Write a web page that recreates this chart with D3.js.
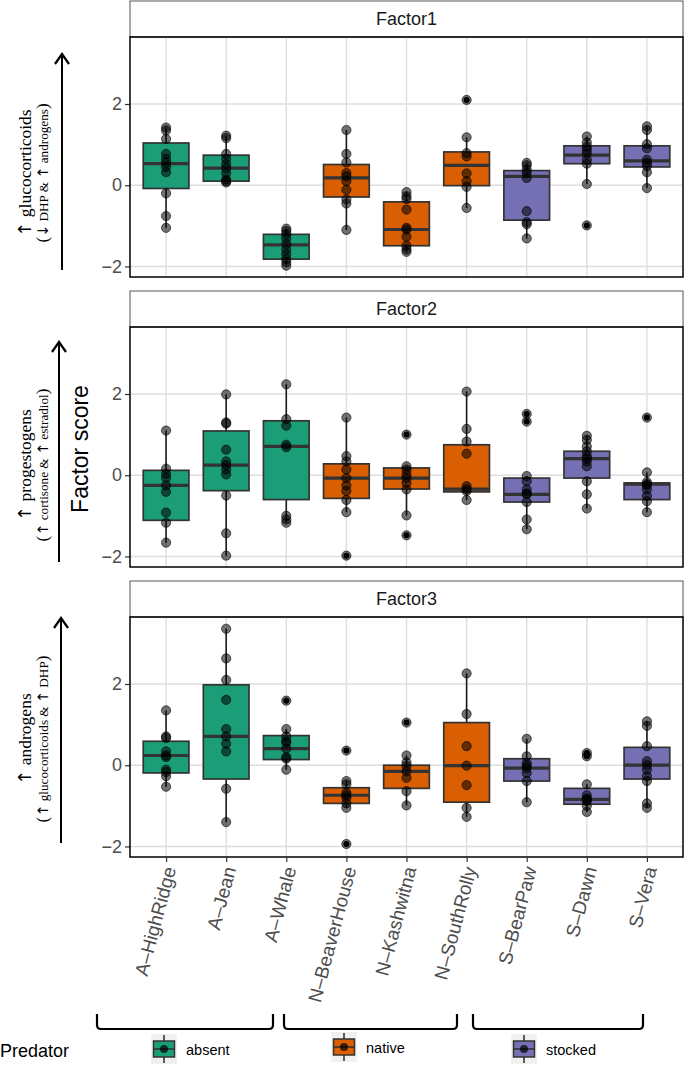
<!DOCTYPE html>
<html><head><meta charset="utf-8">
<script src="https://cdn.jsdelivr.net/npm/d3@7"></script>
<style>body{margin:0;background:#fff}svg{display:block}</style>
</head><body>
<svg id="c" width="685" height="1066"></svg>
<script>
const categories = ["A\u2013HighRidge","A\u2013Jean","A\u2013Whale","N\u2013BeaverHouse","N\u2013Kashwitna","N\u2013SouthRolly","S\u2013BearPaw","S\u2013Dawn","S\u2013Vera"];
const predatorOfCategory = ["absent","absent","absent","native","native","native","stocked","stocked","stocked"];
const predatorLevels = ["absent","native","stocked"];
const predatorColors = ["#1b9e77","#d95f02","#7570b3"];
const factorNames = ["Factor1","Factor2","Factor3"];
const yTicks = [-2, 0, 2];

// box stats per category: [lower whisker, q1, median, q3, upper whisker]
const factor1Box = [[-1.05,-0.08,0.53,1.04,1.42],[0.07,0.10,0.42,0.74,1.22],[-1.98,-1.82,-1.47,-1.21,-1.07],[-1.10,-0.29,0.18,0.51,1.36],[-1.64,-1.49,-1.09,-0.41,-0.17],[-0.56,-0.01,0.49,0.82,1.18],[-1.31,-0.86,0.22,0.36,0.55],[0.03,0.53,0.74,0.97,1.20],[-0.07,0.45,0.60,0.97,1.45]];
const factor2Box = [[-1.66,-1.11,-0.25,0.12,1.10],[-1.98,-0.38,0.25,1.09,1.99],[-1.17,-0.60,0.71,1.34,2.24],[-0.91,-0.57,-0.07,0.28,1.42],[-0.99,-0.34,-0.07,0.18,0.22],[-0.61,-0.41,-0.34,0.75,2.06],[-1.33,-0.66,-0.47,-0.07,-0.02],[-0.82,-0.07,0.41,0.59,0.97],[-0.91,-0.60,-0.22,-0.19,0.07]];
const factor3Box = [[-0.53,-0.19,0.24,0.59,1.35],[-1.40,-0.34,0.71,1.98,3.36],[-0.11,0.14,0.41,0.73,0.89],[-1.05,-0.94,-0.74,-0.555,-0.39],[-0.99,-0.57,-0.15,0.00,0.24],[-1.27,-0.91,-0.01,1.05,2.26],[-0.91,-0.39,-0.07,0.16,0.65],[-1.15,-0.96,-0.84,-0.57,-0.47],[-1.05,-0.34,0.00,0.44,1.08]];

// individual scores per category
const factor1Points = [[1.42,1.35,1.14,0.77,0.65,0.55,0.45,0.32,-0.20,-0.76,-1.05],[1.22,1.16,0.77,0.65,0.52,0.42,0.30,0.14,0.10,0.07],[-1.07,-1.13,-1.21,-1.31,-1.45,-1.58,-1.70,-1.82,-1.90,-1.98],[1.36,0.77,0.56,0.30,0.22,0.10,-0.11,-0.35,-0.45,-1.10],[-0.17,-0.27,-0.34,-0.60,-1.05,-1.09,-1.27,-1.49,-1.58,-1.64],[2.10,1.18,0.79,0.71,0.29,0.10,-0.04,-0.56],[0.55,0.49,0.38,0.30,0.18,-0.64,-0.91,-0.96,-1.31],[1.20,1.05,0.95,0.87,0.78,0.63,0.53,0.03,-0.99],[1.45,1.36,1.01,0.91,0.63,0.55,0.47,0.32,-0.07]];
const factor2Points = [[1.10,0.16,0.03,-0.07,-0.25,-0.41,-0.92,-1.17,-1.66],[1.99,1.30,1.27,0.63,0.34,0.25,0.14,0.02,-0.50,-1.43,-1.98],[2.24,1.38,1.22,0.75,0.69,-1.00,-1.09,-1.17],[1.42,0.47,0.34,0.14,-0.07,-0.25,-0.39,-0.61,-0.91,-1.98],[1.00,0.22,0.14,0.02,-0.07,-0.19,-0.35,-0.99,-1.48],[2.06,1.14,0.83,0.53,-0.27,-0.34,-0.39,-0.61],[1.51,1.32,-0.02,-0.15,-0.35,-0.45,-0.47,-0.66,-1.09,-1.33],[0.97,0.87,0.71,0.59,0.47,0.41,0.34,0.22,-0.15,-0.47,-0.82],[1.42,0.07,-0.17,-0.22,-0.25,-0.35,-0.51,-0.64,-0.91]];
const factor3Points = [[1.35,0.71,0.67,0.34,0.24,0.20,-0.11,-0.17,-0.27,-0.53],[3.36,2.63,2.10,1.61,0.89,0.71,0.53,0.34,-0.58,-1.40],[1.59,0.89,0.71,0.59,0.56,0.41,0.20,0.16,-0.11],[0.36,-0.39,-0.47,-0.68,-0.74,-0.80,-0.94,-1.05,-1.94],[1.05,0.24,0.07,-0.02,-0.15,-0.31,-0.64,-0.99],[2.26,1.26,0.47,-0.01,-0.49,-1.05,-1.27],[0.65,0.22,0.05,-0.01,-0.07,-0.19,-0.39,-0.91],[0.30,0.22,-0.47,-0.74,-0.82,-0.84,-0.88,-1.00,-1.15],[1.08,0.97,0.47,0.10,0.00,-0.11,-0.27,-0.39,-0.94,-1.05]];

const boxes = [factor1Box, factor2Box, factor3Box];
const points = [factor1Points, factor2Points, factor3Points];

const sideMain = ["\u2191 glucocorticoids","\u2191 progestogens","\u2191 androgens"];
const sideSub = ["\u2193 DHP & \u2191 androgens","\u2191 cortisone & \u2191 estradiol","\u2191 glucocorticoids & \u2191 DHP"];

// ---------- layout ----------
const svg = d3.select("#c");
const X0 = 130, X1 = 683;
const panelTops = [37, 327, 617];
const stripH = 36, plotH = 240;
const sideTextY = [173, 465, 739];
const arrowGeom = [[62, 270, 54],[59, 562, 342],[61, 843, 618]];

const step = (X1 - X0) / (categories.length - 1 + 1.2);
const x = d3.scalePoint().domain(categories).range([X0 + 0.6*step, X1 - 0.6*step]);
const boxW = 0.76 * step;
const color = d3.scaleOrdinal().domain(predatorLevels).range(predatorColors);
const sans = "'Liberation Sans', Arial, Helvetica, sans-serif";
const serif = "'Liberation Serif', 'Times New Roman', serif";
const arrowFont = "'DejaVu Sans', sans-serif";

// append text with arrow glyphs rendered larger
function richText(sel, str, size, arrowSize) {
  str.split(/([\u2191\u2193])/).filter(s => s.length).forEach(part => {
    const isArrow = /[\u2191\u2193]/.test(part);
    sel.append("tspan").attr("font-size", isArrow ? arrowSize : size)
      .attr("font-family", isArrow ? arrowFont : serif).text(part);
  });
}

factorNames.forEach((fname, fi) => {
  const top = panelTops[fi];
  const y = d3.scaleLinear().domain([-2.26, 3.65]).range([top + plotH, top]);
  const g = svg.append("g");

  // strip
  g.append("rect").attr("x", X0).attr("y", top - stripH).attr("width", X1 - X0).attr("height", stripH)
    .attr("fill", "#fff").attr("stroke", "#555").attr("stroke-width", 1);
  g.append("text").attr("x", (X0 + X1)/2).attr("y", top - stripH/2).attr("dy", "0.36em")
    .attr("text-anchor", "middle").attr("font-family", sans).attr("font-size", 18).attr("fill", "#1a1a1a").text(fname);

  // grid
  g.selectAll(".gy").data(yTicks).join("line")
    .attr("x1", X0).attr("x2", X1).attr("y1", d => y(d)).attr("y2", d => y(d))
    .attr("stroke", "#dedede").attr("stroke-width", 1.4);
  g.selectAll(".gx").data(categories).join("line")
    .attr("x1", d => x(d)).attr("x2", d => x(d)).attr("y1", top).attr("y2", top + plotH)
    .attr("stroke", "#dedede").attr("stroke-width", 1.4);

  // y axis
  const yAxis = d3.axisLeft(y).tickValues(yTicks).tickSize(5).tickPadding(3).tickFormat(d3.format("d"));
  const ya = g.append("g").attr("transform", `translate(${X0},0)`).call(yAxis);
  ya.select(".domain").remove();
  ya.selectAll("line").attr("stroke", "#333").attr("stroke-width", 1.2);
  ya.selectAll("text").attr("font-family", sans).attr("font-size", 18).attr("fill", "#4d4d4d");

  // boxes
  const bx = boxes[fi], pts = points[fi];
  categories.forEach((cat, ci) => {
    const [lo, q1, med, q3, hi] = bx[ci];
    const cx = x(cat);
    const cg = g.append("g");
    cg.append("line").attr("x1", cx).attr("x2", cx).attr("y1", y(hi)).attr("y2", y(q3)).attr("stroke", "#1a1a1a").attr("stroke-width", 1.6);
    cg.append("line").attr("x1", cx).attr("x2", cx).attr("y1", y(q1)).attr("y2", y(lo)).attr("stroke", "#1a1a1a").attr("stroke-width", 1.6);
    cg.append("rect").attr("x", cx - boxW/2).attr("width", boxW).attr("y", y(q3)).attr("height", y(q1) - y(q3))
      .attr("fill", color(predatorOfCategory[ci])).attr("stroke", "#333").attr("stroke-width", 1.7);
    cg.append("line").attr("x1", cx - boxW/2).attr("x2", cx + boxW/2).attr("y1", y(med)).attr("y2", y(med))
      .attr("stroke", "#333").attr("stroke-width", 3.2);
    const outl = pts[ci].filter(v => v > hi + 0.005 || v < lo - 0.005);
    cg.selectAll(".o").data(outl).join("circle").attr("cx", cx).attr("cy", d => y(d)).attr("r", 3).attr("fill", "#000");
    cg.selectAll(".p").data(pts[ci]).join("circle").attr("cx", cx).attr("cy", d => y(d)).attr("r", 4.6)
      .attr("fill", "#000").attr("fill-opacity", 0.55).attr("stroke", "#000").attr("stroke-opacity", 0.6).attr("stroke-width", 1);
  });

  // panel border
  g.append("rect").attr("x", X0).attr("y", top).attr("width", X1 - X0).attr("height", plotH)
    .attr("fill", "none").attr("stroke", "#000").attr("stroke-width", 1.5);

  // side annotation
  const ty = sideTextY[fi];
  const t1 = g.append("text").attr("transform", `translate(31,${ty}) rotate(-90)`).attr("text-anchor", "middle")
    .attr("font-family", serif).attr("fill", "#000");
  richText(t1, sideMain[fi], 17.5, 18);
  const t2 = g.append("text").attr("transform", `translate(48,${ty}) rotate(-90)`).attr("text-anchor", "middle")
    .attr("font-family", serif).attr("fill", "#000");
  t2.append("tspan").attr("font-size", 17).text("(");
  richText(t2, sideSub[fi], 13.2, 14.5);
  t2.append("tspan").attr("font-size", 17).text(")");

  const [ax, ay0, ay1] = arrowGeom[fi];
  g.append("line").attr("x1", ax).attr("x2", ax).attr("y1", ay0).attr("y2", ay1 + 1).attr("stroke", "#000").attr("stroke-width", 2);
  g.append("path").attr("d", `M${ax-7},${ay1+10} L${ax},${ay1} L${ax+7},${ay1+10}`)
    .attr("fill", "none").attr("stroke", "#000").attr("stroke-width", 2.2);

  // x axis on bottom panel
  if (fi === factorNames.length - 1) {
    const xa = g.append("g").attr("transform", `translate(0,${top + plotH})`)
      .call(d3.axisBottom(x).tickSize(5).tickPadding(2));
    xa.select(".domain").remove();
    xa.selectAll("line").attr("stroke", "#333").attr("stroke-width", 1.2);
    xa.selectAll("text").attr("font-family", sans).attr("font-size", 19).attr("fill", "#4d4d4d")
      .attr("text-anchor", "end")
      .attr("transform", "translate(3,10) rotate(-75)").attr("x", 0).attr("y", 0).attr("dy", "0.36em");
  }
});

// y title
svg.append("text").attr("transform", "translate(88,449) rotate(-90)").attr("text-anchor", "middle")
  .attr("font-family", sans).attr("font-size", 23).attr("fill", "#000").text("Factor score");

// group brackets
const bracketX = [[97, 273], [284, 457], [473, 643]];
bracketX.forEach(([a, b]) => {
  svg.append("path").attr("d", `M${a},1014 L${a},1025 Q${a},1029 ${a+4},1029 L${b-4},1029 Q${b},1029 ${b},1025 L${b},1014`)
    .attr("fill", "none").attr("stroke", "#000").attr("stroke-width", 2.2);
});

// legend
svg.append("text").attr("x", 0).attr("y", 1057).attr("font-family", sans).attr("font-size", 18).attr("fill", "#000").text("Predator");
const keyX = [151, 331, 511];
const keyY = [1034, 1032, 1034];
predatorLevels.forEach((lv, i) => {
  const kx = keyX[i], ky = keyY[i];
  const kg = svg.append("g");
  kg.append("rect").attr("x", kx).attr("y", ky).attr("width", 26).attr("height", 30).attr("fill", "#f0f0f0");
  const cx = kx + 13;
  kg.append("line").attr("x1", cx).attr("x2", cx).attr("y1", ky + 1).attr("y2", ky + 29).attr("stroke", "#1a1a1a").attr("stroke-width", 1.4);
  kg.append("rect").attr("x", kx + 2.5).attr("y", ky + 7).attr("width", 21).attr("height", 16)
    .attr("fill", color(lv)).attr("stroke", "#333").attr("stroke-width", 1.5);
  kg.append("line").attr("x1", kx + 2.5).attr("x2", kx + 23.5).attr("y1", ky + 15).attr("y2", ky + 15).attr("stroke", "#333").attr("stroke-width", 1.6);
  kg.append("circle").attr("cx", cx).attr("cy", ky + 15).attr("r", 4).attr("fill", "#000").attr("fill-opacity", 0.7);
  kg.append("text").attr("x", kx + 35).attr("y", ky + 21).attr("font-family", sans).attr("font-size", 14.5).attr("fill", "#000").text(lv);
});
</script>
</body></html>
